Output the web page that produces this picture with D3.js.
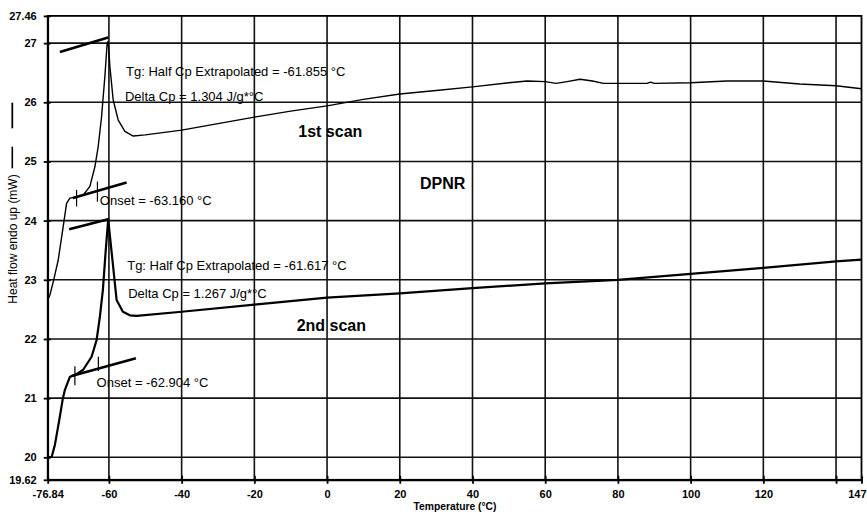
<!DOCTYPE html>
<html>
<head>
<meta charset="utf-8">
<script src="https://cdn.jsdelivr.net/npm/d3@7"></script>
<style>
    body { margin: 0; background: #fff; }
    text { font-family: "Liberation Sans", Arial, sans-serif; fill: #000; }
</style>
</head>
<body>
<div id="chart"></div>
<script>

// DSC thermogram, DPNR
let scan1 = [
    [-76.84, 22.66], [-76.24, 22.74], [-75.14, 23.01], [-73.96, 23.33], [-72.58, 23.90],
    [-71.65, 24.29], [-70.74, 24.38], [-68.90, 24.40], [-67.08, 24.43], [-65.24, 24.58],
    [-63.86, 24.91], [-62.95, 25.25], [-62.02, 25.76], [-61.11, 26.44], [-60.48, 27.00],
    [-60.20, 27.03], [-59.73, 26.60], [-58.83, 26.04], [-57.45, 25.70], [-55.61, 25.51],
    [-53.32, 25.43], [-50, 25.45], [-40, 25.53], [-30, 25.64], [-20, 25.75], [-10, 25.85],
    [0, 25.94], [10, 26.05], [20, 26.14], [30, 26.20], [40, 26.26], [50, 26.33], [55, 26.36],
    [60, 26.35], [63, 26.32], [66, 26.35], [69.6, 26.39], [73, 26.36], [76, 26.32], [80, 26.32],
    [88, 26.32], [89, 26.34], [90, 26.32], [100, 26.33], [110, 26.36], [120, 26.36],
    [130, 26.31], [140, 26.28], [147, 26.23]
];

let scan2 = [
    [-76.84, 20.00], [-75.74, 20.01], [-74.86, 20.21], [-73.49, 20.69], [-72.66, 21.00],
    [-72.11, 21.14], [-70.74, 21.36], [-69.36, 21.39], [-67.08, 21.48], [-64.77, 21.70],
    [-63.39, 21.98], [-62.48, 22.38], [-61.66, 22.83], [-60.97, 23.42], [-60.20, 24.02],
    [-59.18, 23.42], [-57.89, 22.66], [-56.16, 22.46], [-54.23, 22.40], [-52.39, 22.39],
    [-40, 22.46], [-20, 22.58], [0, 22.70], [20, 22.77], [40, 22.86], [60, 22.94],
    [80, 23.00], [100, 23.10], [120, 23.20], [140, 23.31], [147, 23.34]
];

// tangent lines drawn by the analysis software
let tangents = [
    [[-73.49, 26.85], [-60.20, 27.095]],
    [[-69.90, 24.384], [-55.14, 24.643]],
    [[-70.93, 23.855], [-60.20, 24.024]],
    [[-70.27, 21.374], [-52.58, 21.674]]
];

// small vertical markers at the onset tangents: [temp, low, high]
let onsetMarks = [
    [-68.90, 24.24, 24.52],
    [-63.16, 24.32, 24.66],
    [-69.36, 21.22, 21.54],
    [-62.90, 21.46, 21.70]
];

// annotation text: [temp, value, text, bold]
let notes = [
    [-55.30, 26.45, "Tg: Half Cp Extrapolated = -61.855 °C", false],
    [-55.60, 26.03, "Delta Cp = 1.304 J/g*°C", false],
    [-62.49, 24.27, "Onset = -63.160 °C", false],
    [-54.97, 23.17, "Tg: Half Cp Extrapolated = -61.617 °C", false],
    [-54.70, 22.70, "Delta Cp = 1.267 J/g*°C", false],
    [-63.39, 21.19, "Onset = -62.904 °C", false],
    [-7.92, 25.42, "1st scan", true],
    [25.56, 24.54, "DPNR", true],
    [-8.36, 22.14, "2nd scan", true]
];

let xTicks = [-76.84, -60, -40, -20, 0, 20, 40, 60, 80, 100, 120, 140, 147];
let xTickLabels = ["-76.84", "-60", "-40", "-20", "0", "20", "40", "60", "80", "100", "120", "", "147"];
let xGrid = [-60, -40, -20, 0, 20, 40, 60, 80, 100, 120, 140];
let yTicks = [19.62, 20, 21, 22, 23, 24, 25, 26, 27, 27.46];
let yTickLabels = ["19.62", "20", "21", "22", "23", "24", "25", "26", "27", "27.46"];
let yGrid = [20, 21, 22, 23, 24, 25, 26, 27];

let width = 867, height = 514;

let svg = d3.select("#chart").append("svg")
    .attr("width", width)
    .attr("height", height);

svg.append("rect")
    .attr("width", width)
    .attr("height", height)
    .attr("fill", "#fff");

let x = d3.scaleLinear().domain([-76.84, 147]).range([47.7, 861.5]);
let y = d3.scaleLinear().domain([19.62, 27.46]).range([479.8, 15.9]);

// grid
svg.append("g").selectAll("line")
    .data(xGrid)
    .enter().append("line")
    .attr("x1", d => x(d)).attr("x2", d => x(d))
    .attr("y1", y(19.62)).attr("y2", y(27.46))
    .attr("stroke", "#111").attr("stroke-width", 1.6);

svg.append("g").selectAll("line")
    .data(yGrid)
    .enter().append("line")
    .attr("x1", x(-76.84)).attr("x2", x(147))
    .attr("y1", d => y(d)).attr("y2", d => y(d))
    .attr("stroke", "#111").attr("stroke-width", 1.6);

// frame
svg.append("rect")
    .attr("x", x(-76.84)).attr("y", y(27.46))
    .attr("width", x(147) - x(-76.84))
    .attr("height", y(19.62) - y(27.46))
    .attr("fill", "none").attr("stroke", "#000").attr("stroke-width", 1.8);

// axes
let xAxis = svg.append("g")
    .attr("transform", "translate(0," + y(19.62) + ")")
    .call(d3.axisBottom(x)
        .tickValues(xTicks)
        .tickFormat((d, i) => xTickLabels[i])
        .tickSizeInner(4).tickSizeOuter(0).tickPadding(6));

let yAxis = svg.append("g")
    .attr("transform", "translate(" + x(-76.84) + ",0)")
    .call(d3.axisLeft(y)
        .tickValues(yTicks)
        .tickFormat((d, i) => yTickLabels[i])
        .tickSizeInner(4).tickSizeOuter(0).tickPadding(7));

xAxis.selectAll(".tick line").attr("y1", -4).attr("stroke-width", 1.8);
yAxis.selectAll(".tick line").attr("x1", 3).attr("stroke-width", 1.8);
[xAxis, yAxis].forEach(function (a) {
    a.select(".domain").attr("stroke-width", 1.8);
    a.selectAll("text")
        .style("font-family", "'Liberation Sans', Arial, sans-serif")
        .style("font-size", "11px")
        .style("font-weight", "bold")
        .attr("fill", "#000");
});

// last label sits against the window edge
xAxis.selectAll(".tick text")
    .filter(d => d === 147)
    .attr("text-anchor", "end")
    .attr("x", width - 1 - x(147));

// axis titles
svg.append("text")
    .attr("x", 455).attr("y", 509.5)
    .attr("text-anchor", "middle")
    .style("font-size", "10.3px").style("font-weight", "bold")
    .text("Temperature (°C)");

svg.append("text")
    .attr("transform", "translate(16.5,239) rotate(-90)")
    .attr("text-anchor", "middle")
    .style("font-size", "12px")
    .text("Heat flow endo up (mW)");

svg.append("line")
    .attr("x1", 12.3).attr("x2", 12.3).attr("y1", 146.7).attr("y2", 168.3)
    .attr("stroke", "#000").attr("stroke-width", 1.6);
svg.append("line")
    .attr("x1", 12.3).attr("x2", 12.3).attr("y1", 102.7).attr("y2", 128.3)
    .attr("stroke", "#000").attr("stroke-width", 1.8);

// curves
let line = d3.line()
    .x(d => x(d[0]))
    .y(d => y(d[1]));

svg.append("path")
    .datum(scan1)
    .attr("fill", "none")
    .attr("stroke", "#000")
    .attr("stroke-width", 1.4)
    .attr("stroke-linejoin", "round")
    .attr("d", line);

svg.append("path")
    .datum(scan2)
    .attr("fill", "none")
    .attr("stroke", "#000")
    .attr("stroke-width", 2.2)
    .attr("stroke-linejoin", "round")
    .attr("d", line);

svg.append("g").selectAll("path")
    .data(tangents)
    .enter().append("path")
    .attr("fill", "none")
    .attr("stroke", "#000")
    .attr("stroke-width", 2.6)
    .attr("d", line);

svg.append("g").selectAll("line")
    .data(onsetMarks)
    .enter().append("line")
    .attr("x1", d => x(d[0])).attr("x2", d => x(d[0]))
    .attr("y1", d => y(d[1])).attr("y2", d => y(d[2]))
    .attr("stroke", "#000").attr("stroke-width", 1.2);

// annotations
svg.append("g").selectAll("text")
    .data(notes)
    .enter().append("text")
    .attr("x", d => x(d[0]))
    .attr("y", d => y(d[1]))
    .style("font-size", d => d[3] ? "16px" : "13px")
    .style("font-weight", d => d[3] ? "bold" : "normal")
    .text(d => d[2]);

</script>
</body>
</html>
